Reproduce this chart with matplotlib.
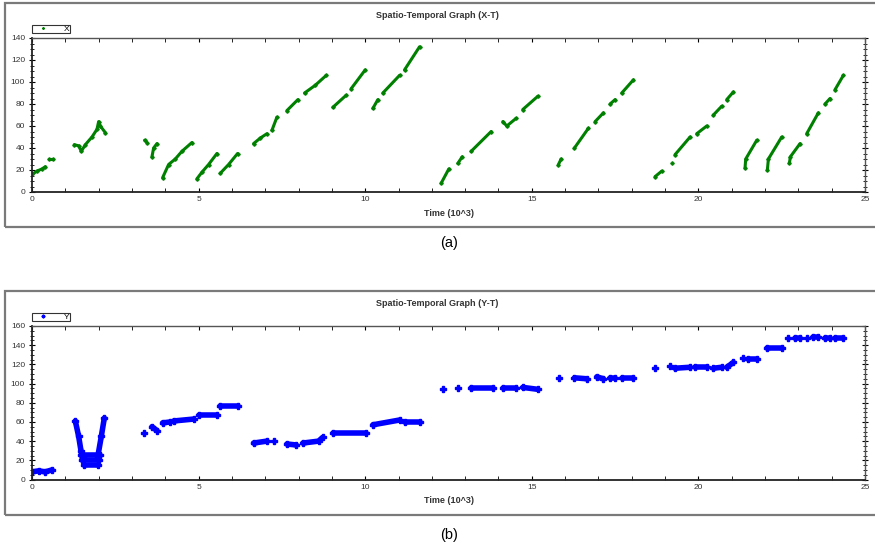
import matplotlib.pyplot as plt
from matplotlib.patches import Rectangle
from matplotlib.ticker import MultipleLocator

plt.rcParams['font.family'] = ['Liberation Sans', 'DejaVu Sans']

# X-T graph: each inner list is one track segment (time in 10^3, position)
x_times = [
    [0.0, 0.15, 0.3, 0.4],
    [0.5, 0.63],
    [1.27, 1.4, 1.48, 1.6, 1.8, 1.95, 2.0, 2.05, 2.2],
    [3.38, 3.45],
    [3.6, 3.65, 3.75],
    [3.92, 4.1, 4.3, 4.5, 4.8],
    [4.95, 5.1, 5.3, 5.55],
    [5.65, 5.9, 6.17],
    [6.65, 6.85, 7.05],
    [7.2, 7.35],
    [7.65, 7.98],
    [8.18, 8.5, 8.83],
    [9.03, 9.43],
    [9.58, 10.0],
    [10.23, 10.38],
    [10.53, 11.03],
    [11.18, 11.63],
    [12.28, 12.51],
    [12.78, 12.91],
    [13.18, 13.78],
    [14.13, 14.25, 14.53],
    [14.73, 15.18],
    [15.8, 15.88],
    [16.28, 16.7],
    [16.9, 17.15],
    [17.35, 17.5],
    [17.7, 18.05],
    [18.7, 18.9],
    [19.2],
    [19.3, 19.75],
    [19.95, 20.25],
    [20.45, 20.7],
    [20.85, 21.05],
    [21.4, 21.42, 21.75],
    [22.07, 22.1, 22.5],
    [22.73, 22.76, 23.05],
    [23.25, 23.6],
    [23.8, 23.95],
    [24.1, 24.35],
]
x_values = [
    [16, 19, 21, 23],
    [30, 30],
    [43, 42, 37, 43, 50, 57, 64, 60, 54],
    [47, 45],
    [32, 40, 44],
    [13, 25, 30, 37, 45],
    [12, 18, 25, 35],
    [17, 25, 35],
    [44, 49, 53],
    [56, 68],
    [74, 84],
    [90, 97, 106],
    [77, 88],
    [94, 111],
    [76, 84],
    [90, 106],
    [111, 132],
    [8, 21],
    [26, 32],
    [37, 55],
    [64, 60, 67],
    [75, 87],
    [25, 30],
    [40, 58],
    [64, 72],
    [80, 84],
    [90, 102],
    [14, 19],
    [26],
    [34, 50],
    [53, 60],
    [70, 78],
    [84, 91],
    [22, 30, 47],
    [20, 30, 50],
    [26, 32, 44],
    [53, 72],
    [80, 85],
    [93, 106],
]

# Y-T graph
y_times = [
    [0.0, 0.2, 0.4, 0.6],
    [1.3, 1.4, 1.47, 1.52],
    [1.47, 2.05],
    [1.5, 2.0],
    [1.55, 1.98],
    [1.98, 2.08, 2.17],
    [3.37],
    [3.6, 3.75],
    [3.92, 4.15],
    [4.25, 4.85],
    [5.0, 5.55],
    [5.65, 6.17],
    [6.65, 7.05],
    [7.25],
    [7.65, 7.93],
    [8.13, 8.6, 8.73],
    [9.03, 10.03],
    [10.23, 11.03],
    [11.18, 11.63],
    [12.33],
    [12.78],
    [13.18, 13.83],
    [14.13, 14.53],
    [14.73, 15.18],
    [15.83],
    [16.28, 16.65],
    [16.95, 17.15],
    [17.35, 17.5],
    [17.7, 18.05],
    [18.7],
    [19.15],
    [19.3, 19.75],
    [19.9, 20.25],
    [20.45, 20.7],
    [20.85, 21.05],
    [21.35],
    [21.5, 21.75],
    [22.05, 22.5],
    [22.7],
    [22.9, 23.05],
    [23.25],
    [23.45, 23.6],
    [23.8, 23.95],
    [24.1, 24.35],
]
y_values = [
    [8, 9, 8, 10],
    [61, 45, 30, 22],
    [26, 26],
    [20, 20],
    [15, 15],
    [25, 45, 64],
    [48],
    [55, 51],
    [59, 60],
    [61, 63],
    [67, 67],
    [77, 77],
    [38, 40],
    [40],
    [37, 36],
    [38, 40, 44],
    [48, 48],
    [57, 62],
    [60, 60],
    [94],
    [95],
    [95, 95],
    [95, 95],
    [96, 94],
    [106],
    [106, 105],
    [107, 105],
    [106, 106],
    [106, 106],
    [116],
    [118],
    [116, 117],
    [117, 117],
    [116, 117],
    [117, 122],
    [127],
    [126, 126],
    [137, 137],
    [148],
    [147, 147],
    [147],
    [149, 149],
    [148, 148],
    [147, 147],
]

fig = plt.figure(figsize=(8.75, 5.47), dpi=100)
W, H = 875, 547


def frame(y0, y1):
    fig.patches.append(Rectangle((5 / W, 1 - y1 / H), 880 / W, (y1 - y0) / H,
                                 transform=fig.transFigure, fill=False,
                                 edgecolor='#7a7a7a', lw=1.6))


def panel(top, bottom, times, values, color, ymax, label, title, caption, cap_y, title_y, lw):
    frame(top - 35, bottom + 35)
    ax = fig.add_axes([32 / W, 1 - bottom / H, 833 / W, (bottom - top) / H])
    for t, v in zip(times, values):
        ax.plot(t, v, color=color, lw=lw, marker='P', ms=lw,
                solid_capstyle='round', label=label)
        label = None
    ax.set_xlim(0, 25)
    ax.set_ylim(0, ymax)
    ax.xaxis.set_major_locator(MultipleLocator(5))
    ax.xaxis.set_minor_locator(MultipleLocator(1))
    ax.yaxis.set_major_locator(MultipleLocator(20))
    ax.yaxis.set_minor_locator(MultipleLocator(5))
    ax.tick_params(axis='both', which='both', labelsize=6, labelcolor='#333333',
                   top=True, right=True, direction='in', pad=3)
    ax.tick_params(axis='x', which='both', length=3)
    ax.tick_params(axis='y', which='major', length=4, direction='inout', left=True)
    ax.tick_params(axis='y', which='minor', length=2.5, direction='inout')
    ax.tick_params(axis='y', which='both', right=True)
    for s in ['left', 'bottom']:
        ax.spines[s].set_color('#222222')
        ax.spines[s].set_linewidth(1.3)
    for s in ['top', 'right']:
        ax.spines[s].set_color('#555555')
        ax.spines[s].set_linewidth(1.0)
    ax.set_xlabel('Time (10^3)', fontsize=6.5, fontweight='bold', color='#333333', labelpad=4)
    fig.text(0.5, 1 - title_y / H, title, ha='center', va='center',
             fontsize=6.5, fontweight='bold', color='#333333')
    fig.text(449 / W, 1 - cap_y / H, caption, ha='center', va='center', fontsize=10.5)
    leg = ax.legend(loc='lower left', bbox_to_anchor=(0, 1.03), fontsize=6,
                    frameon=True, fancybox=False, edgecolor='black',
                    handlelength=2.6, handletextpad=1.2, borderpad=0.05,
                    borderaxespad=0, markerscale=0.5)
    leg.get_frame().set_linewidth(0.8)
    for h in leg.legend_handles:
        h.set_linestyle('none')
    return ax


panel(38, 192, x_times, x_values, '#008000', 140, 'X',
      'Spatio-Temporal Graph (X-T)', '(a)', 243, 15, 2.2)
panel(326, 479.5, y_times, y_values, '#0000ff', 160, 'Y',
      'Spatio-Temporal Graph (Y-T)', '(b)', 535, 303, 4.0)

fig.savefig('out.png', dpi=100)
